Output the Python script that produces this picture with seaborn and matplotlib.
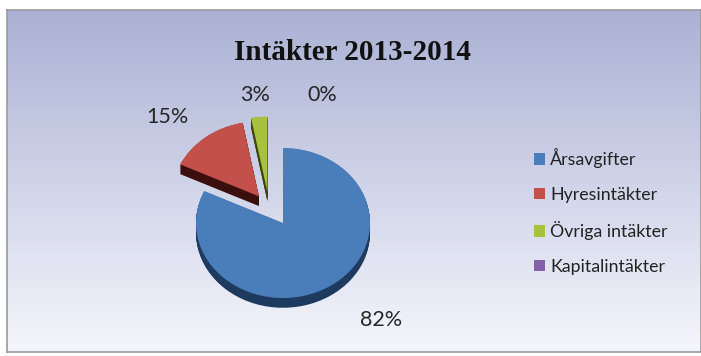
import numpy as np
import matplotlib
matplotlib.use("Agg")
import matplotlib.pyplot as plt
from matplotlib.patches import Wedge
import matplotlib.colors as mcolors
import seaborn as sns

# ---- data ----
categories = ["Årsavgifter", "Hyresintäkter", "Övriga intäkter", "Kapitalintäkter"]
values = [82, 15, 3, 0]
pct_labels = ["82%", "15%", "3%", "0%"]
title = "Intäkter 2013-2014"

# ---- style ----
sns.set_theme(style="white")
plt.rcParams["font.family"] = ["Lato", "DejaVu Sans"]
palette = sns.color_palette(["#4a7eba", "#c4504c", "#a8c23e", "#8560a8"])
side_colors = ["#1e3a5e", "#3a0f0e", "#3e460c", "#3d2a55"]
explode = [0.0, 0.45, 0.42, 0.0]

W, H = 701, 356
fig = plt.figure(figsize=(W / 100, H / 100), dpi=100)
fig.patch.set_facecolor("white")

# background gradient panel
bg = fig.add_axes([7 / W, 4 / H, 694 / W, 342 / H])
top = np.array(mcolors.to_rgb("#aab1d4"))
bot = np.array(mcolors.to_rgb("#f5f6fc"))
t = np.linspace(0, 1, 256)[:, None]
grad = top[None, :] * (1 - t) + bot[None, :] * t
bg.imshow(grad[:, None, :].repeat(2, axis=1), aspect="auto", extent=[0, 1, 0, 1])
bg.set_xlim(0, 1); bg.set_ylim(0, 1)
bg.set_xticks([]); bg.set_yticks([])
for s in bg.spines.values():
    s.set_edgecolor("#9a9a9a"); s.set_linewidth(1.2)

# pie axes
cx, cy, rx, ry = 283, 223, 87, 75
ax = fig.add_axes([(cx - 1.5 * rx) / W, (H - cy - 1.5 * ry) / H, 3 * rx / W, 3 * ry / H])
wedges, _ = ax.pie(values, colors=palette, startangle=90, counterclock=False,
                   explode=explode, wedgeprops=dict(linewidth=0))
ax.set_aspect("auto")
ax.set_xlim(-1.5, 1.5); ax.set_ylim(-1.5, 1.5)
ax.axis("off")
ax.patch.set_visible(False)

# nudge the small slice a bit left (perspective of original)
c = wedges[2].center
wedges[2].set_center((c[0] - 0.14, c[1]))

# 3D sides
depth = 0.13
for w, v, sc in zip(wedges, values, side_colors):
    if v == 0:
        continue
    w.set_zorder(3)
    wc = w.center
    for d in np.linspace(0.005, depth, 14):
        ax.add_patch(Wedge((wc[0], wc[1] - d), w.r, w.theta1, w.theta2,
                           facecolor=sc, edgecolor="none", zorder=2, clip_on=False))
    w.set_clip_on(False)

# percentage labels
label_pos = [(381, 320), (167, 117), (255, 95), (322, 95)]
for txt, (x, y) in zip(pct_labels, label_pos):
    fig.text(x / W, 1 - y / H, txt, ha="center", va="center", fontsize=15.5, color="#262626")

# title
fig.text(352 / W, 1 - 52 / H, title, ha="center", va="center", fontsize=21,
         fontweight="bold", family=["Liberation Serif", "DejaVu Serif"], color="#111111")

# legend
leg = fig.legend(wedges, categories, loc="upper left", bbox_to_anchor=(527 / W, 1 - 141 / H),
                 frameon=False, fontsize=12.8, handlelength=0.6, handleheight=0.6,
                 handletextpad=0.3, labelspacing=1.05, borderaxespad=0)
for txt in leg.get_texts():
    txt.set_color("#222222")

fig.savefig("out.png", dpi=100)
